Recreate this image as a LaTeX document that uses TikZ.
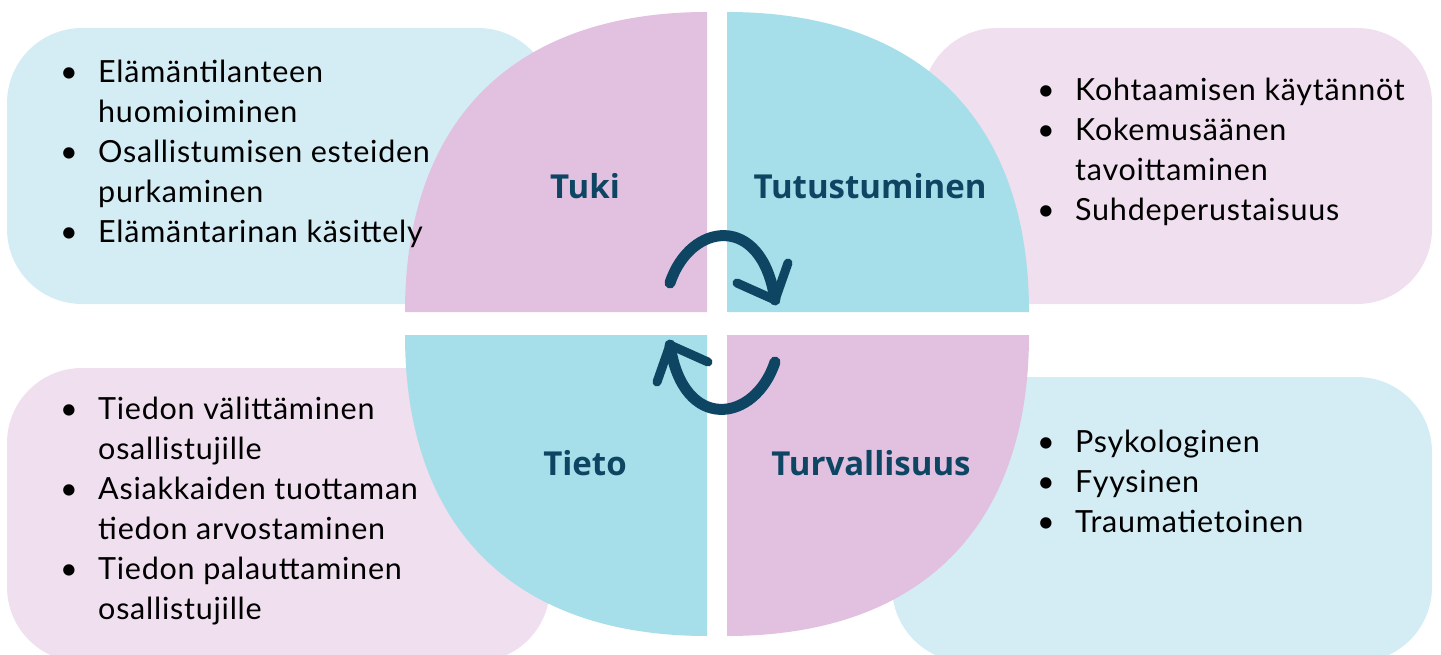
\documentclass[tikz,border=0pt]{standalone}
\usepackage{fontspec}
\setmainfont{Lato}[LetterSpace=2.5]
\newfontfamily\otsikkofont{Open Sans}
\definecolor{vaaleasin}{HTML}{D4EDF4}
\definecolor{vaaleapun}{HTML}{F0DFEE}
\definecolor{lohkosin}{HTML}{A6DEE9}
\definecolor{lohkopun}{HTML}{E1C1DF}
\definecolor{tumma}{HTML}{0E4562}
\tikzset{
  laatikko/.style={rounded corners=75pt},
  otsikko/.style={font=\otsikkofont\bfseries\fontsize{33}{40}\selectfont, text=tumma, anchor=base, inner sep=0pt},
  lista/.style={anchor=base west, inner sep=0pt},
  nuoli/.style={draw=tumma, line width=11pt, line cap=round, line join=round},
  karki/.style={draw=tumma, line width=9pt, line cap=round, line join=round},
}
\newcommand{\kohta}{\makebox[38pt][l]{•}}
\newcommand{\jatko}{\hspace*{38pt}}
\newcommand{\luettelo}[1]{\parbox[t]{480pt}{\fontsize{30.5}{40}\selectfont #1}}
\begin{document}
\begin{tikzpicture}[x=1pt,y=-1pt]
\useasboundingbox (0,0) rectangle (1441,655);
% taustalaatikot
\fill[vaaleasin,laatikko] (7,28) rectangle (553,304);
\fill[vaaleapun,laatikko] (922,28) rectangle (1432,304);
\fill[vaaleapun,laatikko] (7,368) rectangle (550,662);
\fill[vaaleasin,laatikko] (892,377) rectangle (1432,662);
% neljannekset
\fill[lohkopun] (707,312) -- (405,312) .. controls (405,120) and (514,12) .. (707,12) -- cycle;
\fill[lohkosin] (727,312) -- (727,12) .. controls (920,12) and (1029,120) .. (1029,312) -- cycle;
\fill[lohkosin] (707,335) -- (405,335) .. controls (405,528) and (514,636) .. (707,636) -- cycle;
\fill[lohkopun] (727,335) -- (1029,335) .. controls (1029,528) and (920,636) .. (727,636) -- cycle;
% otsikot
\node[otsikko] (tuki) at (585,199) {Tuki};
\node[otsikko] (tutustuminen) at (870,199) {Tutustuminen};
\node[otsikko] (tieto) at (585,475) {Tieto};
\node[otsikko] (turvallisuus) at (871,475) {Turvallisuus};
% nuolet
\coordinate (ylaalku) at (670,283);
\coordinate (ylakarki) at (775,300);
\coordinate (alaalku) at (775,362);
\coordinate (alakarki) at (670,345);
\draw[nuoli] (ylaalku) .. controls (690,222) and (762,212) .. (ylakarki);
\draw[karki] (737,283) -- (ylakarki) -- (788,263);
\draw[nuoli] (alaalku) .. controls (755,423) and (683,433) .. (alakarki);
\draw[karki] (708,362) -- (alakarki) -- (657,382);
% luettelot
\node[lista] (elamantilanne) at (60,83) {\luettelo{%
  \kohta Elämäntilanteen\\
  \jatko huomioiminen\\
  \kohta Osallistumisen esteiden\\
  \jatko purkaminen\\
  \kohta Elämäntarinan käsittely}};
\node[lista] (kohtaaminen) at (1037,101) {\luettelo{%
  \kohta Kohtaamisen käytännöt\\
  \kohta Kokemusäänen\\
  \jatko tavoittaminen\\
  \kohta Suhdeperustaisuus}};
\node[lista] (tiedonvalitys) at (60,419) {\luettelo{%
  \kohta Tiedon välittäminen\\
  \jatko osallistujille\\
  \kohta Asiakkaiden tuottaman\\
  \jatko tiedon arvostaminen\\
  \kohta Tiedon palauttaminen\\
  \jatko osallistujille}};
\node[lista] (turvaa) at (1037,452) {\luettelo{%
  \kohta Psykologinen\\
  \kohta Fyysinen\\
  \kohta Traumatietoinen}};
\end{tikzpicture}
\end{document}
